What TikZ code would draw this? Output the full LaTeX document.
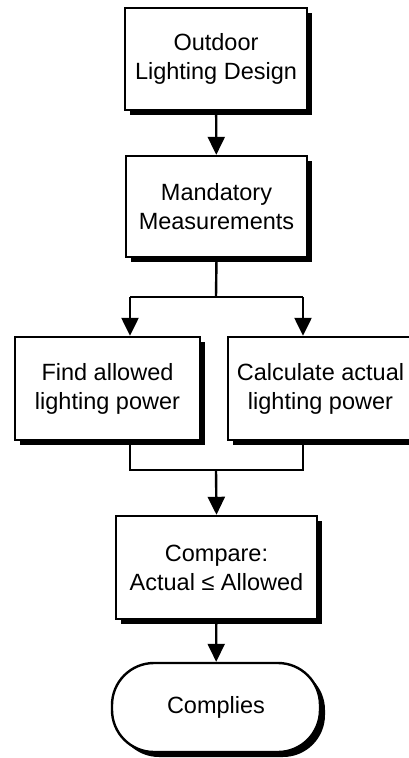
\documentclass[tikz,border=0pt]{standalone}
\usepackage{fontspec}
\setmainfont{Liberation Sans}
\usetikzlibrary{arrows.meta,positioning,calc,shadows}
\tikzset{stepbox/.style={draw=black,line width=2.4pt,fill=white,align=center,inner sep=2pt,
    font=\fontsize{23.5}{29}\selectfont,
    drop shadow={shadow xshift=5pt,shadow yshift=-5pt,opacity=1,fill=black}},
  endbox/.style={stepbox,rounded corners=42pt},
  wire/.style={line width=2.4pt,draw=black},
  flow/.style={wire,-{Triangle[width=17pt,length=18pt]}}}
\begin{document}
\begin{tikzpicture}[x=1pt,y=-1pt]
\useasboundingbox (0,0) rectangle (409,758);
\clip (0,0) rectangle (409,758);
\node[stepbox,minimum width=182pt,minimum height=102pt] (design) at (216,59) {Outdoor\\Lighting Design};
\node[stepbox,minimum width=181pt,minimum height=101pt] (meas) at (216.5,206.5) {Mandatory\\Measurements};
\node[stepbox,minimum width=185pt,minimum height=103pt] (allowed) at (107.5,388.5) {Find allowed\\lighting power};
\node[stepbox,minimum width=185pt,minimum height=103pt] (actual) at (320.5,388.5) {Calculate actual\\lighting power};
\node[stepbox,minimum width=201pt,minimum height=103pt] (compare) at (216.5,567.5) {Compare:\\Actual ≤ Allowed};
\node[endbox,minimum width=208pt,minimum height=89pt] (complies) at (216,707.5) {Complies};
% split and merge points
\coordinate (split) at (216,297);
\coordinate (ls) at (130,297);
\coordinate (rs) at (303,297);
\coordinate (merge) at (216,470);
\coordinate (lm) at (130,470);
\coordinate (rm) at (303,470);
\draw[flow] (design) -- (meas);
\draw[wire] (meas.south) -- (split);
\draw[wire] (ls) -- (rs);
\draw[flow] (ls) -- (ls |- allowed.north);
\draw[flow] (rs) -- (rs |- actual.north);
\draw[wire] (allowed.south -| lm) -- (lm) -- (rm) -- (actual.south -| rm);
\draw[flow] (merge) -- (compare.north);
\draw[flow] (compare) -- (complies);
\end{tikzpicture}
\end{document}
